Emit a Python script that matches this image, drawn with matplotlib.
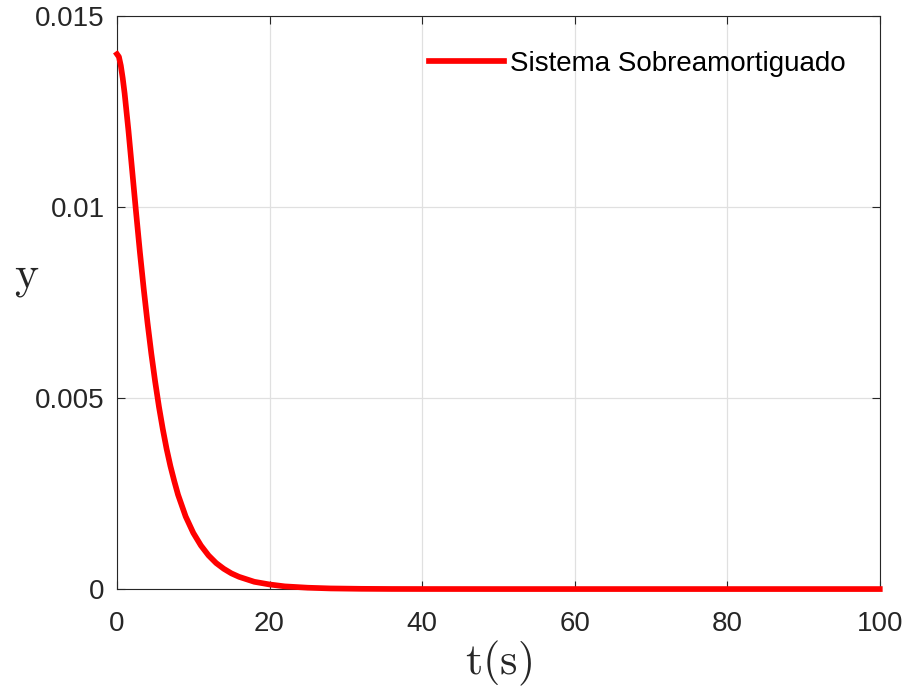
# Respuesta de un sistema sobreamortiguado
import numpy as np
import matplotlib
matplotlib.use('Agg')
import matplotlib.pyplot as plt

# fuentes: Arial-like para ticks, Computer Modern para las etiquetas
plt.rcParams['font.family'] = ['Liberation Sans', 'DejaVu Sans']
plt.rcParams['mathtext.fontset'] = 'cm'

# ===== datos =====
t = [0, 0.25, 0.5, 0.75, 1, 1.5, 2, 2.5, 3, 3.5, 4, 4.5, 5, 5.5, 6, 6.5,
     7, 7.5, 8, 9, 10, 11, 12, 13, 14, 15, 16, 18, 20, 22, 25, 28, 32, 36,
     40, 50, 60, 80, 100]
y = [0.01400, 0.01393, 0.01370, 0.01337, 0.01297, 0.01200, 0.01093,
     0.00986, 0.00882, 0.00786, 0.00697, 0.00616, 0.00543, 0.00477,
     0.00419, 0.00367, 0.00322, 0.00283, 0.00247, 0.00190, 0.00147,
     0.00114, 0.00088, 0.00068, 0.00053, 0.00041, 0.00032, 0.00019,
     0.00012, 0.00007, 0.000035, 0.000016, 0.000006, 0.000002, 0.000001,
     0, 0, 0, 0]
xticks = [0, 20, 40, 60, 80, 100]
yticks = [0, 0.005, 0.01, 0.015]
yticklabels = ['0', '0.005', '0.01', '0.015']
serie = 'Sistema Sobreamortiguado'

gris = '#262626'

fig = plt.figure(figsize=(9.07, 6.93), dpi=100)
ax = fig.add_axes([0.129, 0.150, 0.841, 0.827])

# curva
ax.plot(t, y, color='#ff0000', lw=4.1, label=serie, zorder=3, clip_on=False,
        solid_joinstyle='round')

# ejes
ax.set_xlim(0, 100)
ax.set_ylim(0, 0.015)
ax.set_xticks(xticks)
ax.set_yticks(yticks)
ax.set_yticklabels(yticklabels)
ax.tick_params(direction='in', length=6, width=0.8, color=gris, labelcolor=gris,
               top=True, right=True, labelsize=20)
ax.tick_params(axis='x', pad=16)
ax.tick_params(axis='y', pad=9)
for s in ax.spines.values():
    s.set_color(gris)
    s.set_linewidth(0.8)

# rejilla
ax.grid(True, color='#e0e0e0', lw=0.9)
ax.set_axisbelow(True)

# etiquetas
ax.set_xlabel(r'$\mathrm{t(s)}$', fontsize=32, color=gris, labelpad=1)
ax.set_ylabel(r'$\mathrm{y}$', fontsize=33, color=gris, rotation=0, va='center')
ax.yaxis.set_label_coords(-0.119, 0.544)

# leyenda
ax.legend(loc='center right', bbox_to_anchor=(0.955, 0.917), frameon=False,
          fontsize=20, handlelength=2.7, handletextpad=0.2, borderpad=0,
          borderaxespad=0)

fig.savefig('out.png', dpi=100, facecolor='white')
